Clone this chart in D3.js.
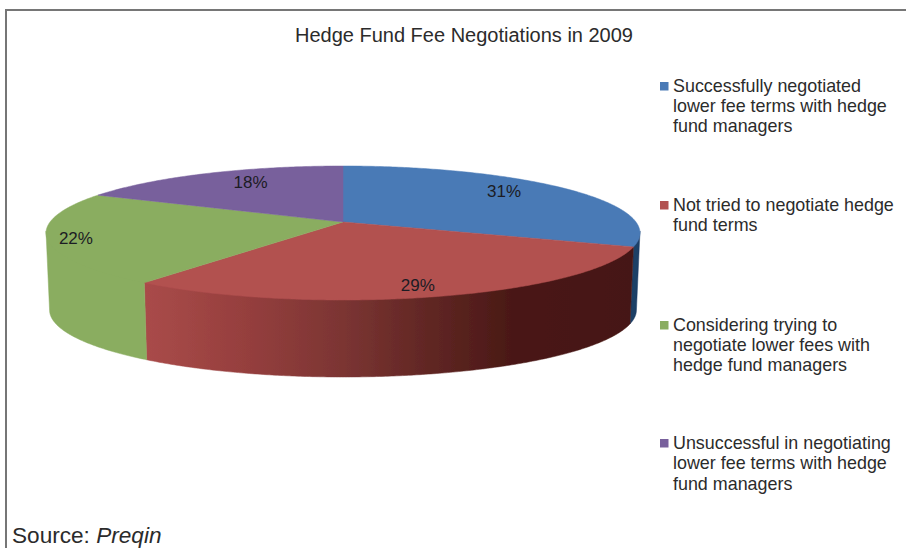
<!DOCTYPE html>
<html>
<head>
<meta charset="utf-8">
<script src="https://cdnjs.cloudflare.com/ajax/libs/d3/7.8.5/d3.min.js"></script>
<style>
html,body{margin:0;padding:0;background:#fff;overflow:hidden}
svg{display:block}
text{font-family:"Liberation Sans",Arial,sans-serif;fill:#2b2b2b}
</style>
</head>
<body>
<svg id="chart" width="906" height="548"></svg>
<script>
// ---- data ----
const categories = [
  ["Successfully negotiated","lower fee terms with hedge","fund managers"],
  ["Not tried to negotiate hedge","fund terms"],
  ["Considering trying to","negotiate lower fees with","hedge fund managers"],
  ["Unsuccessful in negotiating","lower fee terms with hedge","fund managers"]
];
const shares = [31, 29, 22, 18];
const topColors = ["#4a7ab6", "#b25150", "#8aad60", "#78609c"];
const wallColors = ["#1f3f66", "#a84a48", "#8aad60", "#5f4b7c"];
const titleText = "Hedge Fund Fee Negotiations in 2009";

// ---- layout (not data) ----
const cx = 343, cy = 233, rx = 297, ry = 67, depth = 77, bottomScale = 0.988;
const hub = [343, 222];                 // perspective vanishing hub of the slices
const projected = [0, 102, 222, 304.4, 360].map(d => d * Math.PI / 180); // perspective foreshortening of the rim
const labelAlong = [0.40, 0.50, 0.528, 0.60], labelRadius = [0.83, 0.815, 0.902, 0.822];
const legendLineY = [[92,112,132],[211,231],[331,351,371],[449,469,490]];

const svg = d3.select("#chart");
const defs = svg.append("defs");
const soft = defs.append("filter").attr("id","soft");
soft.append("feGaussianBlur").attr("stdDeviation",0.5);

const grad = defs.append("linearGradient").attr("id","redWall")
  .attr("gradientUnits","userSpaceOnUse").attr("x1",146).attr("x2",632).attr("y1",0).attr("y2",0);
[[0,"#a94b49"],[0.2,"#963f3e"],[0.4,"#7c3533"],[0.6,"#5e2522"],[0.76,"#491815"],[1,"#451512"]]
  .forEach(([o,c]) => grad.append("stop").attr("offset",o).attr("stop-color",c));

// frame
svg.append("path").attr("d","M6,548V10H906").attr("fill","none").attr("stroke","#767676").attr("stroke-width",2);

// pie angles through d3
const arcs = d3.pie().sort(null).value(d => d)(shares);
const warp = d3.scaleLinear()
  .domain([0].concat(arcs.map(a => a.endAngle)))
  .range(projected);

const rim = (a, dy=0, r=1) => [cx + r*rx*Math.sin(a), cy - r*ry*Math.cos(a) + dy];
const samples = (a0, a1) => {
  const n = Math.max(2, Math.ceil((a1 - a0) / 0.01));
  return d3.range(n + 1).map(i => a0 + (a1 - a0) * i / n);
};
const line = d3.line();

const pieG = svg.append("g").attr("filter","url(#soft)");

// walls: only the front half (pi/2 .. 3pi/2) is visible; upper edge tucked under the top face
arcs.forEach((a, i) => {
  const s = Math.max(warp(a.startAngle), Math.PI/2), e = Math.min(warp(a.endAngle), 3*Math.PI/2);
  if (e <= s) return;
  const ts = samples(s, e);
  const lower = t => {
    const p = rim(t, depth);
    return [cx + (p[0] - cx) * bottomScale, p[1]];
  };
  const pts = ts.map(t => rim(t, -2)).concat(ts.slice().reverse().map(lower));
  pieG.append("path").attr("d", line(pts) + "Z")
    .attr("fill", i === 1 ? "url(#redWall)" : wallColors[i])
    .attr("stroke", i === 1 ? "url(#redWall)" : wallColors[i]).attr("stroke-width",0.5);
});

// top faces
arcs.forEach((a, i) => {
  const pts = [hub].concat(samples(warp(a.startAngle), warp(a.endAngle)).map(t => rim(t)));
  pieG.append("path").attr("d", line(pts) + "Z")
    .attr("fill", topColors[i]).attr("stroke", topColors[i]).attr("stroke-width",0.5);
});

// data labels
arcs.forEach((a, i) => {
  const s = warp(a.startAngle), e = warp(a.endAngle);
  const p = rim(s + (e - s) * labelAlong[i], 0, labelRadius[i]);
  svg.append("text").attr("x",p[0]).attr("y",p[1]+6)
    .attr("text-anchor","middle").attr("font-size",17).style("fill","#1c1c24")
    .text(shares[i] + "%");
});

// title
svg.append("text").attr("x",464).attr("y",42).attr("text-anchor","middle")
  .attr("font-size",20).text(titleText);

// legend
categories.forEach((lines, i) => {
  const ys = legendLineY[i];
  svg.append("rect").attr("x",660).attr("y",ys[0]-10).attr("width",8.5).attr("height",8.5).attr("fill",topColors[i]);
  lines.forEach((l, j) => svg.append("text").attr("x",673).attr("y",ys[j]).attr("font-size",17.9).text(l));
});

// source
const src = svg.append("text").attr("x",12).attr("y",543).attr("font-size",22.6);
src.append("tspan").text("Source: ");
src.append("tspan").attr("font-style","italic").text("Preqin");
</script>
</body>
</html>
